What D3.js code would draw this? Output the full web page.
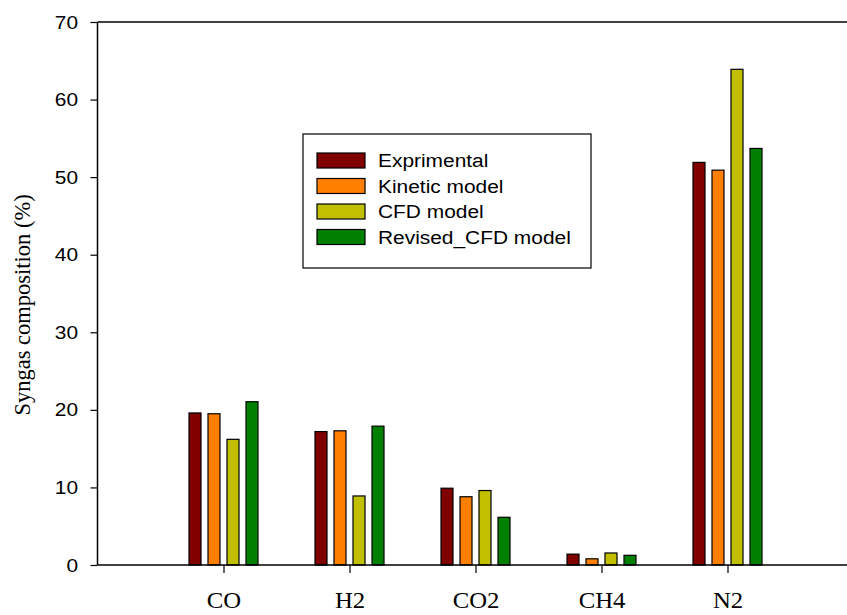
<!DOCTYPE html>
<html>
<head>
<meta charset="utf-8">
<script src="https://cdn.jsdelivr.net/npm/d3@7"></script>
<style>
  body { margin: 0; background: #fff; }
  svg { display: block; }
</style>
</head>
<body>
<div id="chart"></div>
<script>
// data
var categories = ['CO', 'H2', 'CO2', 'CH4', 'N2'];
var seriesNames = ['Exprimental', 'Kinetic model', 'CFD model', 'Revised_CFD model'];
var seriesColors = ['#800000', '#ff8000', '#c0c000', '#008000'];
var exprimental = [19.6, 17.2, 9.9, 1.4, 51.9];
var kinetic = [19.5, 17.3, 8.8, 0.8, 50.9];
var cfd = [16.2, 8.9, 9.6, 1.55, 63.9];
var revisedCfd = [21.05, 17.9, 6.15, 1.25, 53.7];
var yTicks = [0, 10, 20, 30, 40, 50, 60, 70];

var seriesValues = [exprimental, kinetic, cfd, revisedCfd];

var W = 847, H = 615;
var sx = 1.1; // the reference text looks a little wide
var sans = 'Arial, "Liberation Sans", sans-serif';
var serif = '"Times New Roman", "Liberation Serif", serif';

var svg = d3.select('#chart').append('svg')
    .attr('width', W)
    .attr('height', H);

var plotLeft = 97.5, plotTop = 22, plotBottom = 565;

// categories sit at 1..5 on a 0..6 axis (right end falls off the page)
var x = d3.scaleLinear().domain([0, 6]).range([plotLeft, plotLeft + 6 * 126]);
var y = d3.scaleLinear().domain([0, 70]).range([plotBottom, plotTop]);
var xs = d3.scaleBand().domain(d3.range(seriesNames.length))
    .range([-34.5, 34.5]).paddingInner(7 / 19).paddingOuter(0);

// bars
var rows = [];
categories.forEach(function(c, ci) {
    seriesValues.forEach(function(vals, si) {
        rows.push({cat: ci, s: si, v: vals[ci]});
    });
});

svg.append('g').selectAll('rect')
    .data(rows)
    .enter().append('rect')
    .attr('x', function(d) { return x(d.cat + 1) + xs(d.s); })
    .attr('y', function(d) { return y(d.v); })
    .attr('width', xs.bandwidth())
    .attr('height', function(d) { return y(0) - y(d.v); })
    .attr('fill', function(d) { return seriesColors[d.s]; })
    .attr('stroke', '#000')
    .attr('stroke-width', 1.2);

// top frame line
svg.append('line')
    .attr('x1', plotLeft).attr('x2', W)
    .attr('y1', plotTop).attr('y2', plotTop)
    .attr('stroke', '#000').attr('stroke-width', 1.5);

// y axis
var yAxis = svg.append('g')
    .attr('transform', 'translate(' + plotLeft + ',0)')
    .call(d3.axisLeft(y).tickValues(yTicks).tickSize(7).tickPadding(10.7).tickFormat(d3.format('d')));
yAxis.select('.domain').attr('d', 'M0,' + plotBottom + 'V' + plotTop).attr('stroke-width', 1.5);
yAxis.selectAll('.tick line').attr('stroke-width', 1.2);
yAxis.selectAll('.tick text')
    .style('font-family', sans)
    .style('font-size', '19px')
    .attr('transform', 'scale(' + sx + ',1)')
    .attr('fill', '#000');

// x axis
var xAxis = svg.append('g')
    .attr('transform', 'translate(0,' + plotBottom + ')')
    .call(d3.axisBottom(x).tickValues(d3.range(1, categories.length + 1))
        .tickSize(8).tickPadding(19.5)
        .tickFormat(function(d) { return categories[d - 1]; }));
xAxis.select('.domain').attr('d', 'M' + plotLeft + ',0H' + W).attr('stroke-width', 1.5);
xAxis.selectAll('.tick line').attr('stroke-width', 1.2);
xAxis.selectAll('.tick text')
    .style('font-family', serif)
    .style('font-size', '22.5px')
    .attr('transform', 'scale(' + sx + ',1)')
    .attr('fill', '#000');

// y label
svg.append('text')
    .attr('transform', 'translate(30,305) rotate(-90)')
    .attr('text-anchor', 'middle')
    .style('font-family', serif)
    .style('font-size', '22.5px')
    .text('Syngas composition (%)');

// legend
var lg = svg.append('g').attr('transform', 'translate(303,134)');
lg.append('rect')
    .attr('width', 288).attr('height', 134)
    .attr('fill', '#fff').attr('stroke', '#000').attr('stroke-width', 1.2);
var item = lg.selectAll('.item')
    .data(seriesNames)
    .enter().append('g')
    .attr('class', 'item')
    .attr('transform', function(d, i) { return 'translate(14,' + (19 + i * 25.5) + ')'; });
item.append('rect')
    .attr('width', 48).attr('height', 15)
    .attr('fill', function(d, i) { return seriesColors[i]; })
    .attr('stroke', '#000').attr('stroke-width', 1.2);
item.append('text')
    .attr('transform', 'translate(61,14) scale(' + sx + ',1)')
    .style('font-family', sans)
    .style('font-size', '19px')
    .text(function(d) { return d; });
</script>
</body>
</html>
